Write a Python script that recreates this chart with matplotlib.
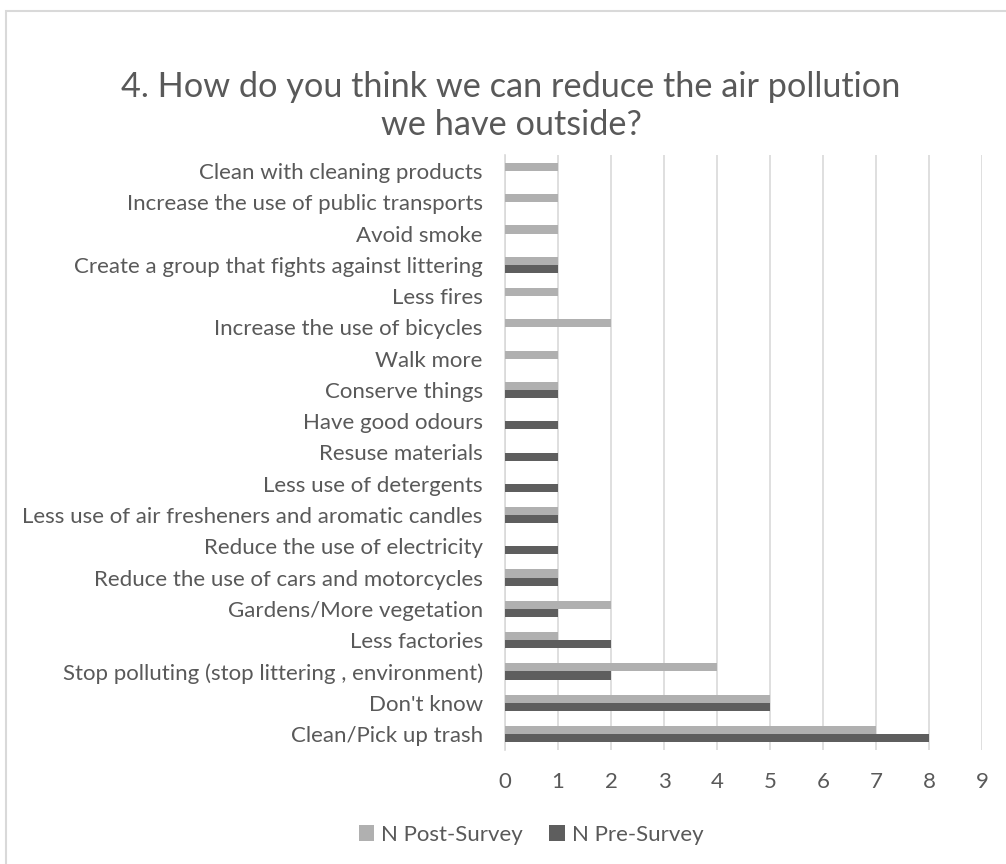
import matplotlib
matplotlib.use("Agg")
import matplotlib.pyplot as plt
from matplotlib.patches import Rectangle
import numpy as np

plt.rcParams['font.family'] = ['Lato', 'DejaVu Sans']

# Answers, listed from the bottom row of the chart to the top row
categories = [
    "Clean/Pick up trash",
    "Don't know",
    "Stop polluting (stop littering , environment)",
    "Less factories",
    "Gardens/More vegetation",
    "Reduce the use of cars and motorcycles",
    "Reduce the use of electricity",
    "Less use of air fresheners and aromatic candles",
    "Less use of detergents",
    "Resuse materials",
    "Have good odours",
    "Conserve things",
    "Walk more",
    "Increase the use of bicycles",
    "Less fires",
    "Create a group that fights against littering",
    "Avoid smoke",
    "Increase the use of public transports",
    "Clean with cleaning products",
]
post_survey = [7, 5, 4, 1, 2, 1, 0, 1, 0, 0, 0, 1, 1, 2, 1, 1, 1, 1, 1]
pre_survey = [8, 5, 2, 2, 1, 1, 1, 1, 1, 1, 1, 1, 0, 0, 0, 1, 0, 0, 0]
x_ticks = list(range(0, 10))

title = "4. How do you think we can reduce the air pollution\nwe have outside?"
series_names = ["N Post-Survey", "N Pre-Survey"]

TEXT = "#595959"
GRID = "#D9D9D9"
LIGHT = "#B0B0B0"
DARK = "#5E5E5E"

W, H = 1006, 864
fig = plt.figure(figsize=(W / 100, H / 100), dpi=100)
ax = fig.add_axes([505 / W, 1 - 749.6 / H, (982 - 505) / W, (749.6 - 155.4) / H])

y = np.arange(len(categories))
bh = 0.26
ax.barh(y + bh / 2, post_survey, height=bh, color=LIGHT, label=series_names[0], zorder=3)
ax.barh(y - bh / 2, pre_survey, height=bh, color=DARK, label=series_names[1], zorder=3)

ax.set_xlim(0, 9)
ax.set_ylim(-0.5, len(categories) - 0.5)
ax.set_xticks(x_ticks)
ax.set_yticks(y)
ax.set_yticklabels(categories)
ax.xaxis.grid(True, color=GRID, lw=1.2, zorder=0)
ax.set_axisbelow(True)
for s in ["top", "right", "bottom"]:
    ax.spines[s].set_visible(False)
ax.spines["left"].set_color(GRID)
ax.spines["left"].set_linewidth(1.2)
ax.tick_params(axis="y", length=0, pad=16, labelsize=16, labelcolor=TEXT)
ax.tick_params(axis="x", length=0, pad=16, labelsize=16, labelcolor=TEXT)

fig.text(511 / W, 1 - 106 / H, title, ha="center", va="center",
         fontsize=24.7, color=TEXT, linespacing=1.25)

handles, labels = ax.get_legend_handles_labels()
fig.legend(handles, labels, loc="center", bbox_to_anchor=(531 / W, 1 - 835 / H),
           ncol=2, frameon=False, fontsize=16, labelcolor=TEXT,
           handlelength=0.7, handleheight=0.7, handletextpad=0.3, columnspacing=1.2)

fig.patches.append(Rectangle((5.5 / W, -0.1), 1.2, (H - 10.5) / H + 0.1,
                             transform=fig.transFigure, fill=False,
                             edgecolor=GRID, lw=1.5))

fig.savefig("out.png", dpi=100)
